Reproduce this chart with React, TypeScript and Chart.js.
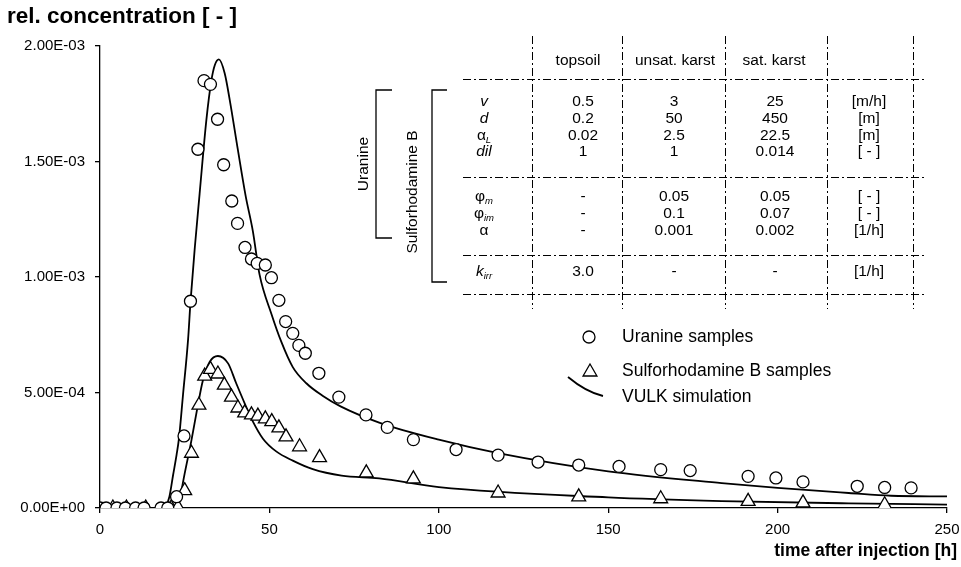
import React, { useEffect, useRef } from 'react';
import { Chart, registerables } from 'chart.js';

Chart.register(...registerables);

const FONT = '"Liberation Sans", Arial, Helvetica, sans-serif';

// Measured samples: time after injection [h] and relative concentration [-]
const uranineSampleTime = [
  0, 1.8, 5, 7.5, 10.5, 13, 18, 20,
  22.6, 24.8, 26.7, 28.9, 30.7, 32.6, 34.7, 36.5, 38.9, 40.6,
  42.8, 44.7, 46.4, 48.8, 50.6, 52.8, 54.8, 56.9, 58.7, 60.6,
  64.6, 70.5, 78.5, 84.8, 92.5, 105.1, 117.5, 129.3, 141.3, 153.2,
  165.5, 174.2, 191.3, 199.5, 207.5, 223.5, 231.6, 239.4,
];
const uranineSampleConc = [
  0, 0, 0, 0, 0, 0, 0, 0,
  4.9e-5, 3.12e-4, 8.95e-4, 1.553e-3, 1.85e-3, 1.834e-3, 1.683e-3, 1.486e-3, 1.329e-3, 1.232e-3,
  1.128e-3, 1.078e-3, 1.059e-3, 1.052e-3, 9.97e-4, 8.99e-4, 8.07e-4, 7.56e-4, 7.04e-4, 6.7e-4,
  5.83e-4, 4.8e-4, 4.03e-4, 3.49e-4, 2.96e-4, 2.53e-4, 2.29e-4, 1.99e-4, 1.86e-4, 1.8e-4,
  1.66e-4, 1.62e-4, 1.37e-4, 1.3e-4, 1.13e-4, 9.4e-5, 8.9e-5, 8.7e-5,
];

const srbSampleTime = [
  3.8, 7.8, 13.5, 21, 23, 25, 27, 29.2, 30.9, 32.6, 34.8, 36.7, 38.8, 40.7,
  42.7, 44.7, 46.6, 48.8, 50.7, 52.8, 54.9, 58.9, 64.8, 78.6, 92.5,
  117.5, 141.3, 165.5, 191.3, 207.5, 231.6,
];
const srbSampleConc = [
  0, 0, 0, 0, 3e-6, 7.5e-5, 2.37e-4, 4.45e-4, 5.71e-4, 6.0e-4, 5.8e-4, 5.32e-4, 4.8e-4, 4.33e-4,
  4.12e-4, 4.03e-4, 3.98e-4, 3.86e-4, 3.74e-4, 3.47e-4, 3.08e-4, 2.65e-4, 2.18e-4, 1.52e-4, 1.26e-4,
  6.5e-5, 4.8e-5, 4.0e-5, 2.9e-5, 2.2e-5, 1.4e-5,
];

// VULK simulation curves
const uranineSimTime = [
  0, 18.5, 19.5, 20.5, 21.6, 22.6, 23.3, 24.5, 26, 26.7, 28, 29.4, 31.4, 32.9, 33.9, 35.1,
  36.8, 38.3, 40.7, 43, 45.1, 47.1, 50.6, 53.5, 56.9, 60.9, 65.8, 71, 82.4, 100, 117.5,
  150, 183.5, 200, 221, 233.5, 250,
];
const uranineSimConc = [
  0, 0, 1e-5, 5e-5, 1.45e-4, 2.3e-4, 3.0e-4, 4.9e-4, 7.3e-4, 8.9e-4, 1.13e-3, 1.36e-3, 1.68e-3, 1.853e-3, 1.918e-3, 1.942e-3,
  1.882e-3, 1.766e-3, 1.55e-3, 1.35e-3, 1.2e-3, 1.01e-3, 8.4e-4, 7.2e-4, 6.1e-4, 5.4e-4, 4.85e-4, 4.4e-4, 3.7e-4, 2.96e-4, 2.38e-4,
  1.59e-4, 1.08e-4, 8.7e-5, 6.5e-5, 5.3e-5, 5.0e-5,
];

const srbSimTime = [
  0, 20.5, 22.6, 23.8, 25, 27, 28.7, 30.4, 32.4, 34.8, 37.8, 40.2, 42.7, 45.1, 48.1, 52,
  56.9, 62.8, 71.3, 82.4, 100, 150, 183.5, 221, 250,
];
const srbSimConc = [
  0, 0, 5e-6, 6e-5, 1.5e-4, 2.94e-4, 4.3e-4, 5.54e-4, 6.33e-4, 6.58e-4, 6.26e-4, 5.4e-4, 4.53e-4, 3.75e-4, 3.0e-4, 2.45e-4,
  2.05e-4, 1.68e-4, 1.4e-4, 1.28e-4, 9.0e-5, 4.6e-5, 3.0e-5, 2.0e-5, 1.5e-5,
];

const xTitle = 'time after injection [h]';
const yTitle = 'rel. concentration [ - ]';
const legendLabels = ['Uranine samples', 'Sulforhodamine B samples', 'VULK simulation'];

// Model parameter table
const tableHeaders = ['topsoil', 'unsat. karst', 'sat. karst'];
const paramSymbols = ['v', 'd', 'α', 'dil', 'φ', 'φ', 'α', 'k'];
const paramSubscripts = ['', '', 'L', '', 'm', 'im', '', 'irr'];
const paramItalic = [true, true, false, true, false, false, false, true];
const topsoilValues = ['0.5', '0.2', '0.02', '1', '-', '-', '-', '3.0'];
const unsatKarstValues = ['3', '50', '2.5', '1', '0.05', '0.1', '0.001', '-'];
const satKarstValues = ['25', '450', '22.5', '0.014', '0.05', '0.07', '0.002', '-'];
const paramUnits = ['[m/h]', '[m]', '[m]', '[ - ]', '[ - ]', '[ - ]', '[1/h]', '[1/h]'];
const groupLabels = ['Uranine', 'Sulforhodamine B'];

function sci(v: number): string {
  const [m, e] = v.toExponential(2).split('e');
  const sign = e[0] === '-' ? '-' : '+';
  const digits = e.replace(/^[+-]/, '').padStart(2, '0');
  return `${m}E${sign}${digits}`;
}

function pts(xs: number[], ys: number[]) {
  return xs.map((x, i) => ({ x, y: ys[i] }));
}

const annotationPlugin = {
  id: 'annotations',
  afterDraw(chart: any) {
    const ctx: CanvasRenderingContext2D = chart.ctx;
    ctx.save();
    ctx.fillStyle = '#000';
    ctx.strokeStyle = '#000';

    // axis titles
    ctx.textBaseline = 'middle';
    ctx.textAlign = 'left';
    ctx.font = `bold 22.5px ${FONT}`;
    ctx.fillText(yTitle, 7, 17);
    ctx.font = `bold 17.5px ${FONT}`;
    ctx.textAlign = 'right';
    ctx.fillText(xTitle, 957, 551);

    // legend
    ctx.lineWidth = 1.3;
    ctx.beginPath();
    ctx.arc(589, 337, 6, 0, Math.PI * 2);
    ctx.fillStyle = '#fff';
    ctx.fill();
    ctx.stroke();
    const tr = 8;
    ctx.beginPath();
    ctx.moveTo(590, 372 - tr);
    ctx.lineTo(590 + tr * Math.sin(Math.PI * 2 / 3), 372 + tr / 2);
    ctx.lineTo(590 - tr * Math.sin(Math.PI * 2 / 3), 372 + tr / 2);
    ctx.closePath();
    ctx.fill();
    ctx.stroke();
    ctx.lineWidth = 1.8;
    ctx.beginPath();
    ctx.moveTo(568, 377);
    ctx.quadraticCurveTo(586, 392, 603, 396);
    ctx.stroke();
    ctx.fillStyle = '#000';
    ctx.font = `17.5px ${FONT}`;
    ctx.textAlign = 'left';
    ctx.fillText(legendLabels[0], 622, 337);
    ctx.fillText(legendLabels[1], 622, 371);
    ctx.fillText(legendLabels[2], 622, 397);

    // table grid (dash-dot)
    ctx.lineWidth = 1;
    ctx.setLineDash([8, 3, 2, 3]);
    const vLines = [532, 622, 725, 827, 913];
    vLines.forEach((x) => {
      ctx.beginPath();
      ctx.moveTo(x + 0.5, 36);
      ctx.lineTo(x + 0.5, 309);
      ctx.stroke();
    });
    const hLines = [79, 177, 255, 294];
    hLines.forEach((y) => {
      ctx.beginPath();
      ctx.moveTo(463, y + 0.5);
      ctx.lineTo(925, y + 0.5);
      ctx.stroke();
    });
    ctx.setLineDash([]);

    // brackets
    ctx.lineWidth = 1.3;
    ctx.beginPath();
    ctx.moveTo(392, 90);
    ctx.lineTo(376, 90);
    ctx.lineTo(376, 238);
    ctx.lineTo(392, 238);
    ctx.stroke();
    ctx.beginPath();
    ctx.moveTo(447, 90);
    ctx.lineTo(432, 90);
    ctx.lineTo(432, 282);
    ctx.lineTo(447, 282);
    ctx.stroke();

    const tf = 15.5;
    ctx.font = `${tf}px ${FONT}`;
    ctx.textAlign = 'center';
    ctx.textBaseline = 'middle';
    ctx.save();
    ctx.translate(364, 164);
    ctx.rotate(-Math.PI / 2);
    ctx.fillText(groupLabels[0], 0, 0);
    ctx.restore();
    ctx.save();
    ctx.translate(413, 192);
    ctx.rotate(-Math.PI / 2);
    ctx.fillText(groupLabels[1], 0, 0);
    ctx.restore();

    // header
    const colX = [583, 674, 775, 869];
    ctx.fillText(tableHeaders[0], 578, 61);
    ctx.fillText(tableHeaders[1], 675, 61);
    ctx.fillText(tableHeaders[2], 774, 61);

    const rowY = [102, 119, 136, 152, 197, 214, 231, 272];
    rowY.forEach((y, i) => {
      // symbol with optional subscript
      const mainFont = `${paramItalic[i] ? 'italic ' : ''}${tf}px ${FONT}`;
      const subFont = `italic 9.5px ${FONT}`;
      ctx.font = mainFont;
      const wMain = ctx.measureText(paramSymbols[i]).width;
      ctx.font = subFont;
      const wSub = paramSubscripts[i] ? ctx.measureText(paramSubscripts[i]).width : 0;
      const start = 484 - (wMain + wSub) / 2;
      ctx.textAlign = 'left';
      ctx.font = mainFont;
      ctx.fillText(paramSymbols[i], start, y);
      if (paramSubscripts[i]) {
        ctx.font = subFont;
        ctx.fillText(paramSubscripts[i], start + wMain, y + 4);
      }
      ctx.textAlign = 'center';
      ctx.font = `${tf}px ${FONT}`;
      ctx.fillText(topsoilValues[i], colX[0], y);
      ctx.fillText(unsatKarstValues[i], colX[1], y);
      ctx.fillText(satKarstValues[i], colX[2], y);
      ctx.fillText(paramUnits[i], colX[3], y);
    });

    ctx.restore();
  },
};

export default function App() {
  const ref = useRef<HTMLCanvasElement | null>(null);

  useEffect(() => {
    const canvas = ref.current;
    if (!canvas) return;
    const axisFont = { family: FONT, size: 15 };
    const chart = new Chart(canvas, {
      type: 'scatter',
      data: {
        datasets: [
          {
            label: legendLabels[0],
            data: pts(uranineSampleTime, uranineSampleConc),
            pointStyle: 'circle',
            pointRadius: 6,
            borderColor: '#000',
            backgroundColor: '#fff',
            borderWidth: 1.3,
            showLine: false,
          },
          {
            label: legendLabels[1],
            data: pts(srbSampleTime, srbSampleConc),
            pointStyle: 'triangle',
            pointRadius: 8,
            borderColor: '#000',
            backgroundColor: '#fff',
            borderWidth: 1.3,
            showLine: false,
          },
          {
            label: 'VULK simulation (Uranine)',
            type: 'line',
            data: pts(uranineSimTime, uranineSimConc),
            borderColor: '#000',
            borderWidth: 1.8,
            pointRadius: 0,
            showLine: true,
            fill: false,
            cubicInterpolationMode: 'monotone',
          },
          {
            label: 'VULK simulation (Sulforhodamine B)',
            type: 'line',
            data: pts(srbSimTime, srbSimConc),
            borderColor: '#000',
            borderWidth: 1.8,
            pointRadius: 0,
            showLine: true,
            fill: false,
            cubicInterpolationMode: 'monotone',
          },
        ],
      } as any,
      options: {
        animation: false,
        responsive: false,
        layout: { padding: { left: 0, top: 46, right: 14, bottom: 0 } },
        plugins: { legend: { display: false }, tooltip: { enabled: false } },
        scales: {
          x: {
            type: 'linear',
            min: 0,
            max: 250,
            ticks: { stepSize: 50, color: '#000', font: axisFont, padding: 8, maxRotation: 0 },
            grid: { display: true, drawOnChartArea: false, drawTicks: true, tickLength: 5, color: '#000', lineWidth: 1.3 },
            border: { display: true, color: '#000', width: 1.3 },
            afterFit(scale: any) {
              scale.height = 59;
              scale.paddingLeft = 0;
              scale.paddingRight = 0;
            },
          },
          y: {
            type: 'linear',
            min: 0,
            max: 0.002,
            ticks: {
              stepSize: 0.0005,
              color: '#000',
              font: axisFont,
              padding: 10,
              callback: (v: any) => sci(Number(v)),
            },
            grid: { display: true, drawOnChartArea: false, drawTicks: true, tickLength: 5, color: '#000', lineWidth: 1.3 },
            border: { display: true, color: '#000', width: 1.3 },
            afterFit(scale: any) {
              scale.width = 100;
              scale.paddingTop = 0;
              scale.paddingBottom = 0;
            },
          },
        },
      } as any,
      plugins: [annotationPlugin],
    });
    return () => chart.destroy();
  }, []);

  return (
    <div style={{ position: 'fixed', left: 0, top: 0, width: 961, height: 567, background: '#fff' }}>
      <canvas ref={ref} width={961} height={567} style={{ display: 'block' }} />
    </div>
  );
}
